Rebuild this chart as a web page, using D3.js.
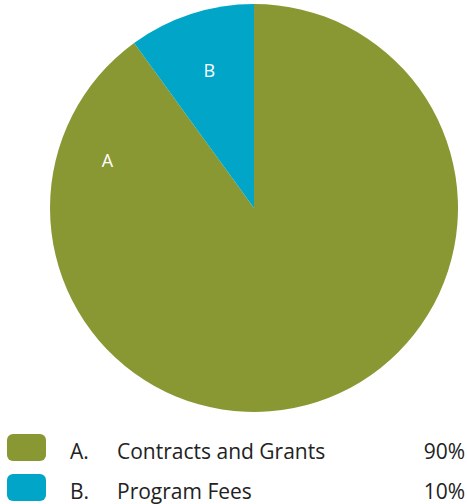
<!DOCTYPE html>
<html>
<head>
<meta charset="utf-8">
<script src="https://cdn.jsdelivr.net/npm/d3@7"></script>
<style>
  body { margin: 0; background: #fff; }
  text { font-family: "Open Sans", sans-serif; }
</style>
</head>
<body>
<div id="chart"></div>
<script>
// Data
const letters = ["A", "B"];
const categories = ["Contracts and Grants", "Program Fees"];
const values = [90, 10];
const colors = ["#8a9833", "#00a5c8"];

const width = 467, height = 504;
const cx = 254, cy = 208, radius = 204;

const svg = d3.select("#chart").append("svg")
    .attr("width", width)
    .attr("height", height);

const data = letters.map((l, i) => ({ letter: l, name: categories[i], value: values[i], color: colors[i] }));

// Pie, A drawn clockwise from top, B ends at top
const pie = d3.pie().sort(null).value(d => d.value);
const arcs = pie(data);

const arc = d3.arc().innerRadius(0).outerRadius(radius);

const g = svg.append("g").attr("transform", `translate(${cx},${cy})`);

g.selectAll("path")
    .data(arcs)
    .enter().append("path")
    .attr("d", arc)
    .attr("fill", d => d.data.color);

// Slice labels, placed near the top left of each slice
g.selectAll(".slice-label")
    .data(arcs)
    .enter().append("text")
    .attr("class", "slice-label")
    .attr("transform", d => {
        // A label sits 36deg before its end, B at its centroid
        let a = d.index === 0 ? d.endAngle - Math.PI / 5 : (d.startAngle + d.endAngle) / 2;
        let p = d3.pointRadial(a, d.index === 0 ? 154 : 145);
        return `translate(${p[0]},${p[1]})`;
    })
    .attr("text-anchor", "middle")
    .attr("dy", "0.36em")
    .attr("fill", "#fff")
    .style("font-size", "18px")
    .text(d => d.data.letter);

// Legend
const legend = svg.append("g").attr("class", "legend");
const rowY = d3.scaleLinear().domain([0, 1]).range([448, 488]);

const rows = legend.selectAll("g")
    .data(data)
    .enter().append("g")
    .attr("transform", (d, i) => `translate(0,${rowY(i)})`);

rows.append("rect")
    .attr("x", 7)
    .attr("y", -14)
    .attr("width", 39)
    .attr("height", 27)
    .attr("rx", 6)
    .attr("fill", d => d.color);

rows.append("text")
    .attr("x", 70)
    .attr("y", 11)
    .attr("fill", "#222")
    .style("font-size", "21px")
    .text(d => d.letter + ".");

rows.append("text")
    .attr("x", 117)
    .attr("y", 11)
    .attr("fill", "#222")
    .style("font-size", "21px")
    .text(d => d.name);

rows.append("text")
    .attr("x", 465)
    .attr("y", 11)
    .attr("text-anchor", "end")
    .attr("fill", "#222")
    .style("font-size", "21px")
    .text(d => d.value + "%");
</script>
</body>
</html>
